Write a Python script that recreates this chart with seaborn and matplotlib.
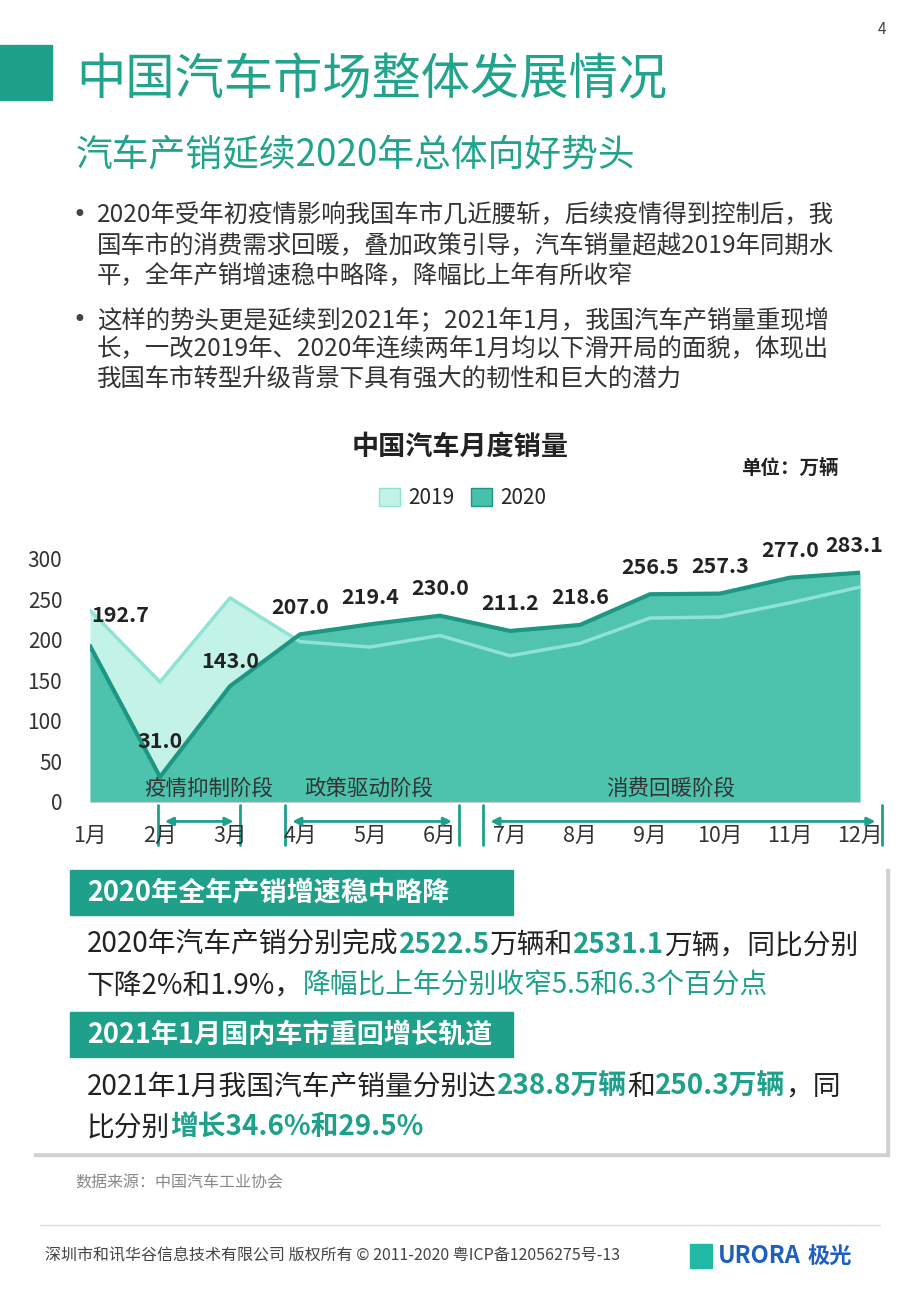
import matplotlib
matplotlib.use("Agg")
import matplotlib.pyplot as plt
import seaborn as sns
import pandas as pd
import numpy as np
from matplotlib.patches import Rectangle, Patch

sns.set_style("white")
plt.rcParams['font.family'] = ['Noto Sans CJK SC', 'DejaVu Sans']

months = ["1月","2月","3月","4月","5月","6月","7月","8月","9月","10月","11月","12月"]
sales_2019 = [236.7, 148.2, 252.0, 198.0, 191.3, 205.6, 180.5, 195.8, 227.1, 228.4, 245.9, 265.4]
sales_2020 = [192.7, 31.0, 143.0, 207.0, 219.4, 230.0, 211.2, 218.6, 256.5, 257.3, 277.0, 283.1]
yticks = [0, 50, 100, 150, 200, 250, 300]
stages = ["疫情抑制阶段", "政策驱动阶段", "消费回暖阶段"]

W, H = 920, 1302
fig = plt.figure(figsize=(W/100, H/100), dpi=100)
fig.patch.set_facecolor("white")
TEAL = "#1fa08a"
TITLE = "#22a38c"

def fx(px): return px / W
def fy(py): return 1 - py / H

# header
fig.patches.append(Rectangle((0, fy(100)), fx(52), (55)/H, transform=fig.transFigure, color=TEAL))
fig.text(fx(76), fy(80), "中国汽车市场整体发展情况", fontsize=35.5, color=TITLE, va="center")
fig.text(fx(76), fy(155), "汽车产销延续2020年总体向好势头", fontsize=26.5, color=TITLE, va="center")
fig.text(fx(882), fy(30), "4", fontsize=11, color="#444444", ha="center", va="center")

bul = [
    (215, "2020年受年初疫情影响我国车市几近腰斩，后续疫情得到控制后，我", True),
    (245, "国车市的消费需求回暖，叠加政策引导，汽车销量超越2019年同期水", False),
    (275, "平，全年产销增速稳中略降，降幅比上年有所收窄", False),
    (320, "这样的势头更是延续到2021年；2021年1月，我国汽车产销量重现增", True),
    (349, "长，一改2019年、2020年连续两年1月均以下滑开局的面貌，体现出", False),
    (379, "我国车市转型升级背景下具有强大的韧性和巨大的潜力", False),
]
for y, s, b in bul:
    if b:
        fig.text(fx(79), fy(y), "•", fontsize=17, color="#444444", va="center", ha="center",
                 family="DejaVu Sans")
    fig.text(fx(97), fy(y), s, fontsize=17.6, color="#333333", va="center")

fig.text(fx(460), fy(447), "中国汽车月度销量", fontsize=19.5, fontweight="bold", color="#222222", ha="center", va="center")
fig.text(fx(790), fy(468), "单位：万辆", fontsize=14, fontweight="bold", color="#222222", ha="center", va="center")

# chart
ax = fig.add_axes([fx(90), fy(802), fx(770), 243/H])
x = np.arange(len(months))
df = pd.DataFrame({"x": np.concatenate([x, x]),
                   "v": sales_2019 + sales_2020,
                   "year": ["2019"]*12 + ["2020"]*12})
c19_fill, c19_line = "#c2f2e8", "#8fe3d3"
c20_fill, c20_line = "#47c1ab", "#1e9782"
ax.fill_between(x, sales_2019, color=c19_fill, lw=0)
ax.fill_between(x, sales_2020, color=c20_fill, lw=0, alpha=0.95)
sns.lineplot(data=df[df.year == "2019"], x="x", y="v", color=c19_line, lw=2.5, ax=ax, legend=False)
sns.lineplot(data=df[df.year == "2020"], x="x", y="v", color=c20_line, lw=3, ax=ax, legend=False)
ax.set_xlim(0, 11)
ax.set_ylim(0, 300)
ax.set_yticks(yticks)
ax.set_yticklabels([str(t) for t in yticks], fontsize=15, color="#333333")
ax.tick_params(axis="y", length=0, pad=20)
ax.set_xticks(x)
ax.set_xticklabels([])
ax.tick_params(axis="x", length=4, color="#cccccc")
ax.set_xlabel(""); ax.set_ylabel("")
for sp in ["top", "right", "left"]:
    ax.spines[sp].set_visible(False)
ax.spines["bottom"].set_color("#cccccc")

offs = {0: (22, 14), 1: (0, 18), 2: (0, 10), 11: (-4, 12)}
for i, v in enumerate(sales_2020):
    dx, dy = offs.get(i, (0, 12))
    ax.annotate(f"{v:.1f}", (i, v), xytext=(dx, dy), textcoords="offset points",
                ha="center", va="bottom", fontsize=15.5, fontweight="bold", color="#222222")
for i, m in enumerate(months):
    ax.text(i, -42, m, ha="center", va="center", fontsize=15.5, color="#333333", clip_on=False)

stage_x = [1.7, 3.98, 8.3]
for sx, s in zip(stage_x, stages):
    ax.text(sx, 17, s, ha="center", va="center", fontsize=15.5, color="#333333")
for a, b in [(0.97, 2.15), (2.79, 5.27), (5.62, 11.32)]:
    for xx in (a, b):
        ax.plot([xx, xx], [-4, -53], color=TEAL, lw=2, clip_on=False)
    ax.annotate("", xy=(b - 0.06, -24), xytext=(a + 0.06, -24),
                arrowprops=dict(arrowstyle="<|-|>", color=TEAL, lw=2, mutation_scale=12),
                annotation_clip=False)

ax.legend(handles=[Patch(facecolor=c19_fill, edgecolor=c19_line, label="2019"),
                   Patch(facecolor=c20_fill, edgecolor=c20_line, label="2020")],
          loc="center", bbox_to_anchor=(fx(463), fy(498)), bbox_transform=fig.transFigure,
          ncol=2, frameon=False, fontsize=15, handlelength=1, handleheight=1, columnspacing=0.8,
          handletextpad=0.4)

# info panel
fig.patches.append(Rectangle((fx(34), fy(1156)), fx(855), 287/H, transform=fig.transFigure, color="#d0d0d0"))
fig.patches.append(Rectangle((fx(30), fy(1152)), fx(855), 287/H, transform=fig.transFigure, color="white"))
for top in (870, 1012):
    fig.patches.append(Rectangle((fx(70), fy(top + 45)), fx(443), 45/H, transform=fig.transFigure, color=TEAL))
fig.text(fx(87), fy(893), "2020年全年产销增速稳中略降", fontsize=19.5, fontweight="bold", color="white", va="center")
fig.text(fx(87), fy(1035), "2021年1月国内车市重回增长轨道", fontsize=19.5, fontweight="bold", color="white", va="center")

renderer = fig.canvas.get_renderer()
def rich(xp, yp, parts, size=20):
    xf = fx(xp)
    for s, col, wt in parts:
        t = fig.text(xf, fy(yp), s, fontsize=size, color=col, fontweight=wt, va="center")
        bb = t.get_window_extent(renderer)
        xf += bb.width / W

D = "#222222"
rich(87, 945, [("2020年汽车产销分别完成", D, "normal"), ("2522.5", TEAL, "bold"), ("万辆和", D, "normal"),
               ("2531.1", TEAL, "bold"), ("万辆，同比分别", D, "normal")])
rich(87, 985, [("下降2%和1.9%，", D, "normal"), ("降幅比上年分别收窄5.5和6.3个百分点", TEAL, "normal")])
rich(87, 1087, [("2021年1月我国汽车产销量分别达", D, "normal"), ("238.8万辆", TEAL, "bold"), ("和", D, "normal"),
                ("250.3万辆", TEAL, "bold"), ("，同", D, "normal")])
rich(87, 1127, [("比分别", D, "normal"), ("增长34.6%和29.5%", TEAL, "bold")])

fig.text(fx(75), fy(1183), "数据来源：中国汽车工业协会", fontsize=11.5, style="italic", color="#888888", va="center")
fig.add_artist(plt.Line2D([fx(40), fx(880)], [fy(1225), fy(1225)], color="#dddddd", lw=1))
fig.text(fx(45), fy(1256), "深圳市和讯华谷信息技术有限公司 版权所有 © 2011-2020 粤ICP备12056275号-13",
         fontsize=11.5, color="#444444", va="center")
fig.text(fx(718), fy(1256), "URORA", fontsize=17, fontweight="bold", color="#1f5fbf", va="center")
fig.text(fx(808), fy(1256), "极光", fontsize=16, fontweight="bold", color="#1f5fbf", va="center")
fig.patches.append(Rectangle((fx(690), fy(1268)), fx(22), 24/H, transform=fig.transFigure, color="#22b8a6"))

fig.savefig("out.png", dpi=100)
